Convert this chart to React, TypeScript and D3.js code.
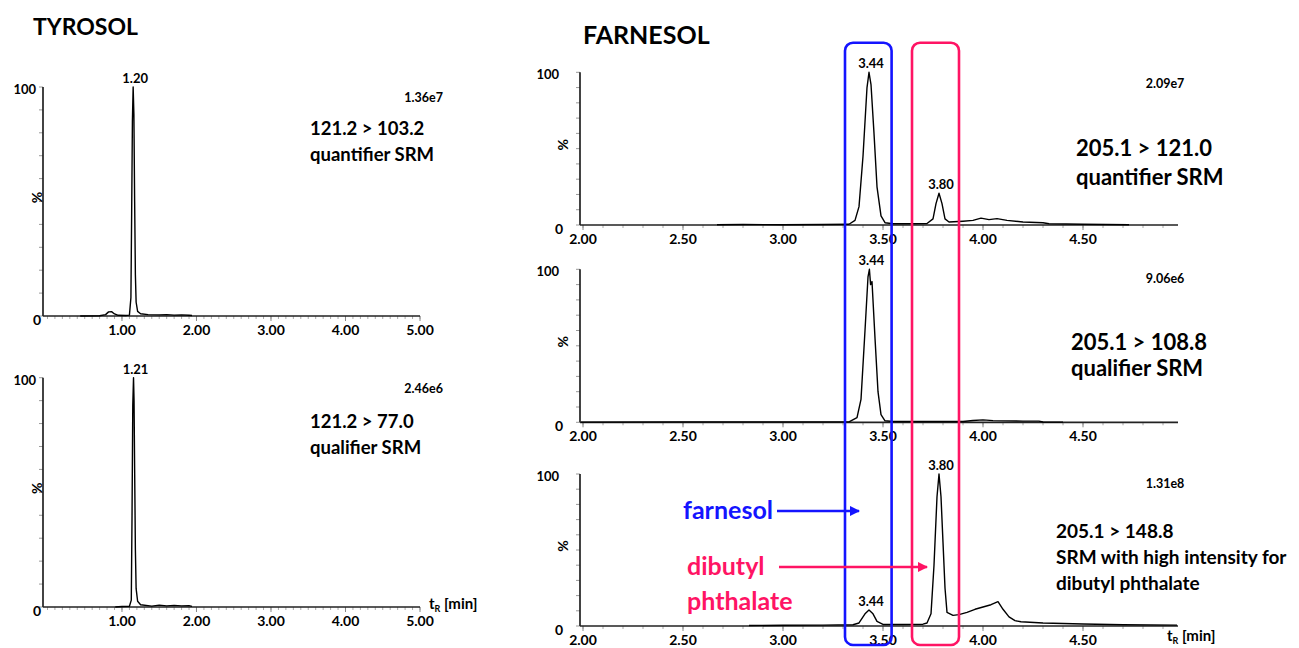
import React from "react";
import * as d3 from "d3";

// ---------- DATA (time [min], intensity [%]) ----------
const tyrosolQuant: [number, number][] = [
  [0.44, 0], [0.7, 0.1], [0.78, 0.6], [0.82, 1.8], [0.86, 1.9], [0.9, 0.9], [0.95, 0.3],
  [1.05, 0.2], [1.1, 0.4], [1.12, 8], [1.13, 45], [1.14, 85], [1.15, 100], [1.16, 88],
  [1.17, 50], [1.18, 18], [1.19, 6], [1.21, 2], [1.25, 1], [1.35, 0.6], [1.5, 0.5],
  [1.6, 0.6], [1.7, 0.4], [1.8, 0.5], [1.9, 0.3], [1.94, 0.2],
];
const tyrosolQual: [number, number][] = [
  [0.91, 0], [1.0, 0.2], [1.1, 0.3], [1.125, 3], [1.135, 40], [1.145, 88], [1.155, 100],
  [1.162, 90], [1.17, 60], [1.18, 25], [1.19, 8], [1.21, 2.5], [1.25, 1], [1.4, 0.4],
  [1.5, 0.8], [1.6, 0.5], [1.7, 0.7], [1.8, 0.5], [1.9, 0.6], [1.94, 0.3],
];
const farnesolQuant: [number, number][] = [
  [2.67, 0.2], [2.8, 0.3], [3.0, 0.2], [3.2, 0.3], [3.33, 0.5], [3.36, 3], [3.38, 12],
  [3.4, 45], [3.42, 90], [3.43, 100], [3.44, 92], [3.455, 60], [3.47, 25], [3.49, 6],
  [3.51, 1.5], [3.55, 0.8], [3.65, 0.8], [3.72, 1], [3.75, 4], [3.765, 14], [3.78, 20.8],
  [3.795, 14], [3.81, 4], [3.83, 2], [3.9, 2.5], [3.95, 3], [3.99, 4.5], [4.03, 3.5],
  [4.07, 4.2], [4.12, 3], [4.2, 2], [4.3, 1.5], [4.33, 0.8], [4.5, 0.5], [4.73, 0.2],
];
const farnesolQual: [number, number][] = [
  [1.99, 0.1], [2.5, 0.3], [3.0, 0.3], [3.33, 0.3], [3.37, 3], [3.39, 15], [3.41, 60],
  [3.425, 95], [3.432, 100], [3.438, 90], [3.445, 92], [3.46, 55], [3.475, 20],
  [3.49, 5], [3.51, 1], [3.55, 0.5], [3.9, 0.5], [3.95, 1.2], [4.0, 1.6], [4.05, 1.1],
  [4.2, 0.8], [4.28, 0.8], [4.3, 0.2], [4.4, 0.1],
];
const dibutylSrm: [number, number][] = [
  [2.83, 0.3], [3.0, 0.5], [3.2, 0.6], [3.35, 0.8], [3.38, 2], [3.41, 8], [3.43, 10.5],
  [3.45, 8], [3.47, 3], [3.5, 1], [3.6, 1], [3.7, 1.2], [3.72, 2], [3.74, 8], [3.755, 40],
  [3.77, 85], [3.78, 100], [3.79, 85], [3.8, 55], [3.81, 25], [3.82, 9], [3.85, 7],
  [3.88, 7.5], [3.92, 9], [3.96, 11], [4.0, 12.5], [4.04, 14], [4.075, 16], [4.1, 11],
  [4.13, 6], [4.16, 3.5], [4.19, 2.8], [4.3, 2], [4.5, 1.3], [4.7, 0.8], [4.97, 0.6],
];

const tyrosolTicks = [1, 2, 3, 4, 5];
const farnesolTicks = [2, 2.5, 3, 3.5, 4, 4.5];
const yTicks = d3.range(0, 101, 10);

// ---------- LAYOUT ----------
const FONT = "Lato, 'Open Sans', sans-serif";
const BLUE = "#1414ff";
const PINK = "#ff1464";

type Panel = {
  data: [number, number][];
  dom: [number, number];
  x0: number; x1: number; yTop: number; yBot: number;
  ticks: number[]; minor: number;
  peaks: { t: number; v: number; label: string }[];
  scaleTxt: string; scaleX: number; scaleY: number; scaleAnchor: string;
  lines: string[]; lx: number; ly: number; lsize: number; lgap: number;
};

const panels: Panel[] = [
  {
    data: tyrosolQuant, dom: [-0.06, 5.0], x0: 43, x1: 420, yTop: 87, yBot: 316,
    ticks: tyrosolTicks, minor: 0.1, peaks: [{ t: 1.15, v: 100, label: "1.20" }],
    scaleTxt: "1.36e7", scaleX: 443, scaleY: 102, scaleAnchor: "end",
    lines: ["121.2 > 103.2", "quantifier SRM"], lx: 310, ly: 135, lsize: 18.5, lgap: 26,
  },
  {
    data: tyrosolQual, dom: [-0.06, 5.0], x0: 43, x1: 420, yTop: 377.7, yBot: 607,
    ticks: tyrosolTicks, minor: 0.1, peaks: [{ t: 1.155, v: 100, label: "1.21" }],
    scaleTxt: "2.46e6", scaleX: 443, scaleY: 393, scaleAnchor: "end",
    lines: ["121.2 > 77.0", "qualifier SRM"], lx: 310, ly: 428, lsize: 18.5, lgap: 26,
  },
  {
    data: farnesolQuant, dom: [1.985, 4.975], x0: 580, x1: 1178, yTop: 72.3, yBot: 225,
    ticks: farnesolTicks, minor: 0.1,
    peaks: [{ t: 3.43, v: 100, label: "3.44" }, { t: 3.78, v: 20.8, label: "3.80" }],
    scaleTxt: "2.09e7", scaleX: 1165, scaleY: 88, scaleAnchor: "middle",
    lines: ["205.1 > 121.0", "quantifier SRM"], lx: 1076, ly: 156, lsize: 22, lgap: 29,
  },
  {
    data: farnesolQual, dom: [1.985, 4.975], x0: 580, x1: 1178, yTop: 269.3, yBot: 422.3,
    ticks: farnesolTicks, minor: 0.1, peaks: [{ t: 3.432, v: 100, label: "3.44" }],
    scaleTxt: "9.06e6", scaleX: 1165, scaleY: 283, scaleAnchor: "middle",
    lines: ["205.1 > 108.8", "qualifier SRM"], lx: 1071, ly: 350, lsize: 22, lgap: 26,
  },
  {
    data: dibutylSrm, dom: [1.985, 4.975], x0: 580, x1: 1178, yTop: 474, yBot: 626,
    ticks: farnesolTicks, minor: 0.1,
    peaks: [{ t: 3.43, v: 10.5, label: "3.44" }, { t: 3.78, v: 100, label: "3.80" }],
    scaleTxt: "1.31e8", scaleX: 1165, scaleY: 488, scaleAnchor: "middle",
    lines: ["205.1 > 148.8", "SRM with high intensity for", "dibutyl phthalate"],
    lx: 1056, ly: 538, lsize: 19, lgap: 26,
  },
];

// highlighted retention windows (min)
const farnesolWindow: [number, number] = [3.31, 3.543];
const dibutylWindow: [number, number] = [3.645, 3.88];

function PanelView({ p }: { p: Panel }) {
  const x = d3.scaleLinear().domain(p.dom).range([p.x0, p.x1]);
  const y = d3.scaleLinear().domain([0, 100]).range([p.yBot, p.yTop]);
  const line = d3.line<[number, number]>().x((d) => x(d[0])).y((d) => y(d[1]));
  const minorTicks = d3.range(Math.ceil(p.dom[0] / p.minor) * p.minor, p.dom[1] + 1e-9, p.minor);
  const isTyr = p.x0 < 100;
  return (
    <g>
      {yTicks.map((v) => (
        <line key={"y" + v} x1={p.x0 - 4} x2={p.x0} y1={y(v)} y2={y(v)} stroke="#999" strokeWidth={1} />
      ))}
      {minorTicks.map((v, i) => (
        <line key={"m" + i} x1={x(v)} x2={x(v)} y1={p.yBot} y2={p.yBot + 3} stroke="#aaa" strokeWidth={1} />
      ))}
      {p.ticks.map((v) => (
        <line key={"t" + v} x1={x(v)} x2={x(v)} y1={p.yBot} y2={p.yBot + 5} stroke="#888" strokeWidth={1} />
      ))}
      <line x1={p.x0} x2={p.x0} y1={p.yTop} y2={p.yBot} stroke="#222" strokeWidth={1.7} />
      <line x1={p.x0} x2={p.x1} y1={p.yBot} y2={p.yBot} stroke="#222" strokeWidth={1.7} />
      <path d={line(p.data) || ""} fill="none" stroke="#000" strokeWidth={1.4} strokeLinejoin="round" />
      {p.ticks.map((v) => (
        <text key={"l" + v} x={x(v)} y={p.yBot + 19} textAnchor="middle" fontSize={14} fontWeight="bold" fontFamily={FONT}>
          {v.toFixed(2)}
        </text>
      ))}
      <text x={p.x0 - (isTyr ? 7 : 21)} y={p.yTop + 7} textAnchor="end" fontSize={13} fontWeight="bold" fontFamily={FONT}>100</text>
      <text x={p.x0 - (isTyr ? 2 : 17)} y={p.yBot + 9} textAnchor="end" fontSize={14} fontWeight="bold" fontFamily={FONT}>0</text>
      <text transform={`translate(${p.x0 - (isTyr ? 1 : 12)},${(p.yTop + p.yBot) / 2 - 4}) rotate(-90)`} textAnchor="middle"
        fontSize={14} fontWeight="bold" fontFamily={FONT}>%</text>
      {p.peaks.map((pk) => (
        <text key={pk.label + pk.t} x={x(pk.t) + 2} y={y(pk.v) - 4} textAnchor="middle" fontSize={13} fontWeight="bold" fontFamily={FONT}>
          {pk.label}
        </text>
      ))}
      <text x={p.scaleX} y={p.scaleY} textAnchor={p.scaleAnchor as any} fontSize={12.5} fontWeight="bold" fontFamily={FONT}>{p.scaleTxt}</text>
      {p.lines.map((s, i) => (
        <text key={s} x={p.lx} y={p.ly + i * p.lgap} fontSize={p.lsize} fontWeight="bold" fontFamily={FONT}>{s}</text>
      ))}
    </g>
  );
}

export default function App() {
  const fx = d3.scaleLinear().domain([1.985, 4.975]).range([580, 1178]);
  const boxTop = 42.7, boxBot = 645;
  return (
    <svg width={1299} height={648} style={{ position: "absolute", left: 0, top: 0, background: "#fff" }}>
      <defs>
        <marker id="arrB" viewBox="0 0 10 10" refX="9" refY="5" markerWidth="4" markerHeight="4" orient="auto">
          <path d="M0,0 L10,5 L0,10 z" fill={BLUE} />
        </marker>
        <marker id="arrP" viewBox="0 0 10 10" refX="9" refY="5" markerWidth="4" markerHeight="4" orient="auto">
          <path d="M0,0 L10,5 L0,10 z" fill={PINK} />
        </marker>
      </defs>
      <text x={33} y={35} fontSize={23} fontWeight="bold" fontFamily={FONT}>TYROSOL</text>
      <text x={583} y={44} fontSize={25} fontWeight="bold" fontFamily={FONT}>FARNESOL</text>
      {panels.map((p, i) => <PanelView key={i} p={p} />)}
      {[[429, 609], [1167, 641]].map(([tx, ty], i) => (
        <text key={i} x={tx} y={ty} fontSize={15} fontWeight="bold" fontFamily={FONT}>
          t<tspan fontSize={9} dy={3}>R</tspan><tspan dy={-3}> [min]</tspan>
        </text>
      ))}
      <rect x={fx(farnesolWindow[0])} y={boxTop} width={fx(farnesolWindow[1]) - fx(farnesolWindow[0])} height={boxBot - boxTop}
        rx={8} fill="none" stroke={BLUE} strokeWidth={2.6} />
      <rect x={fx(dibutylWindow[0])} y={boxTop} width={fx(dibutylWindow[1]) - fx(dibutylWindow[0])} height={boxBot - boxTop}
        rx={8} fill="none" stroke={PINK} strokeWidth={2.6} />
      <text x={683} y={519} fontSize={25} fontWeight="bold" fontFamily={FONT} fill={BLUE}>farnesol</text>
      <line x1={777} x2={859} y1={511} y2={511} stroke={BLUE} strokeWidth={2.6} markerEnd="url(#arrB)" />
      <text x={687} y={575} fontSize={25} fontWeight="bold" fontFamily={FONT} fill={PINK}>dibutyl</text>
      <text x={687} y={610} fontSize={25} fontWeight="bold" fontFamily={FONT} fill={PINK}>phthalate</text>
      <line x1={779} x2={927} y1={567} y2={567} stroke={PINK} strokeWidth={2.6} markerEnd="url(#arrP)" />
    </svg>
  );
}
